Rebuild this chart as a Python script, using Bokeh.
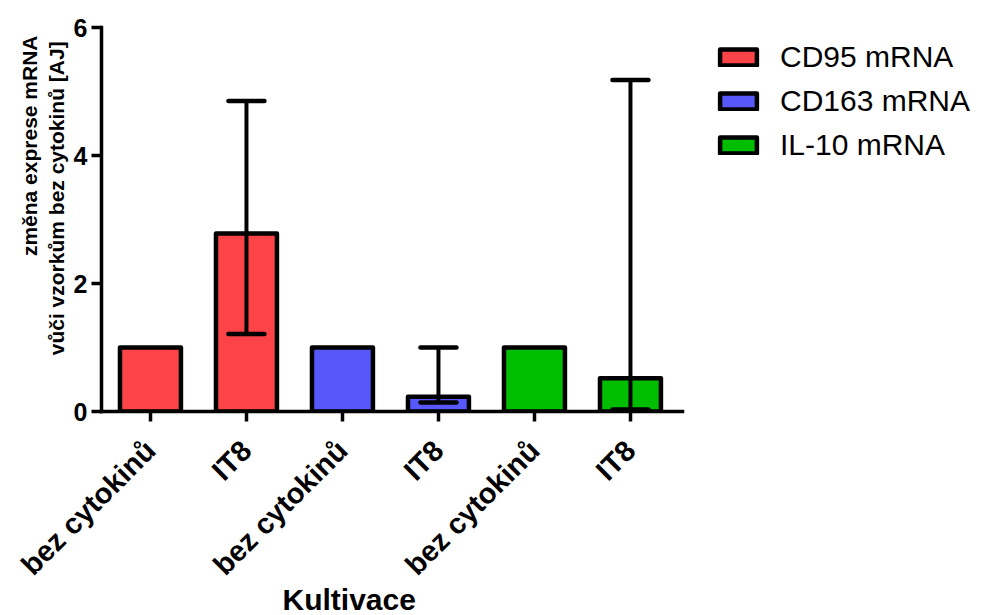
import math
from bokeh.plotting import figure
from bokeh.models import (ColumnDataSource, Whisker, TeeHead, FixedTicker,
                          Legend, LegendItem, Title)
from bokeh.embed import file_html
from bokeh.resources import INLINE

# ---- data ----
categories = ["bez cytokinů", "IT8", "bez cytokinů", "IT8", "bez cytokinů", "IT8"]
series = ["CD95 mRNA", "CD163 mRNA", "IL-10 mRNA"]
colors = ["#FC4347", "#5858FA", "#00BD00"]
cd95_values = [1.0, 2.78]
cd163_values = [1.0, 0.23]
il10_values = [1.0, 0.52]
it8_err_upper = [4.85, 1.0, 5.18]
it8_err_lower = [1.21, 0.14, 0.03]
y_ticks = [0, 2, 4, 6]

series_values = [cd95_values, cd163_values, il10_values]
positions = list(range(1, len(categories) + 1))

FONT = "Liberation Sans"

X0, X1 = 0.49, 6.54          # extent of the category axis
p = figure(width=984, height=615, x_range=(X0, X0 + 883 / 96), y_range=(0, 6),
           output_backend="svg", toolbar_location=None,
           min_border_left=101, min_border_right=0, min_border_top=27,
           min_border_bottom=204)
p.outline_line_color = None
p.xgrid.visible = False
p.ygrid.visible = False

renderers = []
for i, (name, vals, col) in enumerate(zip(series, series_values, colors)):
    xs = positions[2 * i:2 * i + 2]
    src = ColumnDataSource(dict(x=xs, top=vals))
    r = p.vbar(x="x", top="top", width=0.635, bottom=0, source=src,
               fill_color=col, line_color="black", line_width=4.5,
               line_join="round")
    renderers.append(r)

# error bars (IT8 bars)
it8_pos = [positions[2 * i + 1] for i in range(len(series))]
esrc = ColumnDataSource(dict(base=it8_pos, upper=it8_err_upper, lower=it8_err_lower))
w = Whisker(base="base", upper="upper", lower="lower", source=esrc,
            dimension="height", line_width=4, line_color="black", level="overlay",
            upper_head=TeeHead(size=36, line_width=4.5, line_color="black", line_cap="round"),
            lower_head=TeeHead(size=36, line_width=4.5, line_color="black", line_cap="round"))
p.add_layout(w)

# axes
for ax in (p.xaxis[0], p.yaxis[0]):
    ax.axis_line_width = 3.5
    ax.axis_line_cap = "square"
    ax.major_tick_line_width = 3.5
    ax.major_tick_out = 10
    ax.major_tick_in = 0
    ax.minor_tick_line_color = None
    ax.major_label_text_font = FONT
    ax.major_label_text_font_style = "bold"
    ax.major_label_text_color = "black"

p.yaxis.ticker = FixedTicker(ticks=y_ticks)
p.yaxis.major_label_text_font_size = "25px"
p.yaxis.major_label_standoff = 4

p.xaxis.bounds = (X0, X1)
p.xaxis.ticker = FixedTicker(ticks=positions)
p.xaxis.major_label_overrides = {pos: lab for pos, lab in zip(positions, categories)}
p.xaxis.major_label_orientation = math.pi / 4
p.xaxis.major_label_text_font_size = "29px"
p.xaxis.major_label_standoff = 24

# axis titles
p.add_layout(Title(text="vůči vzorkům bez cytokinů  [AJ]", align="right", offset=8,
                   text_font=FONT, text_font_size="21px", text_font_style="bold",
                   text_color="black", standoff=5), "left")
p.add_layout(Title(text="změna exprese mRNA", align="right", offset=8,
                   text_font=FONT, text_font_size="21px", text_font_style="bold",
                   text_color="black", standoff=0), "left")
p.add_layout(Title(text="Kultivace", align="left", offset=181,
                   text_font=FONT, text_font_size="30px", text_font_style="bold",
                   text_color="black", standoff=-40), "below")

legend = Legend(items=[LegendItem(label=s, renderers=[r]) for s, r in zip(series, renderers)],
                location=(614, 249), glyph_width=46, glyph_height=20,
                label_text_font=FONT, label_text_font_size="30px", label_standoff=19,
                label_text_color="black",
                spacing=10, padding=0, margin=0, border_line_color=None,
                background_fill_alpha=0)
p.add_layout(legend)

open("out.html", "w").write(file_html(p, INLINE))
